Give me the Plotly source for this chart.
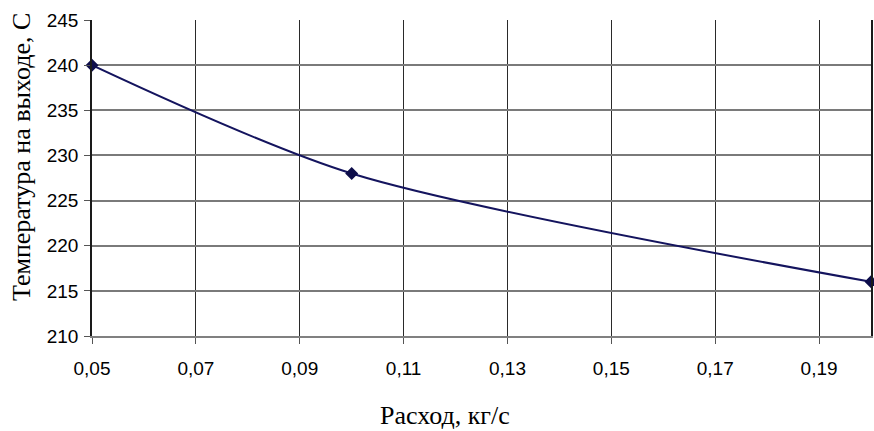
import plotly.graph_objects as go

flow = [0.05, 0.10, 0.20]
temp = [240, 228, 216]
x_ticks = [0.05, 0.07, 0.09, 0.11, 0.13, 0.15, 0.17, 0.19]
y_ticks = [210, 215, 220, 225, 230, 235, 240, 245]
x_title = "Расход, кг/с"
y_title = "Температура на выходе, С"

W, H = 874, 431
L, R, T, B = 92, 3, 20, 95

fig = go.Figure()
fig.add_trace(go.Scatter(
    x=flow, y=temp, mode="lines+markers",
    line=dict(color="#14145e", width=2, shape="spline", smoothing=0.8),
    marker=dict(symbol="diamond", size=10, color="#0d0d4a"),
    cliponaxis=False, showlegend=False,
))

serif = "Liberation Serif, Times New Roman"
fig.update_layout(
    width=W, height=H,
    margin=dict(l=L, r=R, t=T, b=B),
    plot_bgcolor="white", paper_bgcolor="white",
    separators=", ",
    font=dict(family="Liberation Sans, Arial", size=19, color="black"),
    annotations=[
        dict(text=x_title, xref="paper", yref="paper",
             x=(445 - L) / (W - L - R), y=-(415 - (H - B)) / (H - T - B),
             xanchor="center", yanchor="middle", showarrow=False,
             borderpad=0,
             font=dict(family=serif, size=26, color="black")),
        dict(text=y_title, xref="paper", yref="paper", textangle=-90,
             x=-(L - 21) / (W - L - R), y=((H - B) - 157) / (H - T - B),
             xanchor="center", yanchor="middle", showarrow=False,
             borderpad=0,
             font=dict(family=serif, size=26, color="black")),
    ],
)
fig.update_xaxes(
    range=[0.05, 0.20], tickvals=x_ticks, tickformat=".2f",
    showgrid=True, gridcolor="#2a2a2a", gridwidth=1,
    showline=True, linecolor="#808080", linewidth=2,
    ticks="outside", ticklen=6, tickcolor="#555", ticklabelstandoff=8,
    zeroline=False, automargin=False,
)
fig.update_yaxes(
    range=[210, 245], tickvals=y_ticks,
    showgrid=True, gridcolor="#7a7a7a", gridwidth=2,
    showline=True, linecolor="#1a1a1a", linewidth=1.5, mirror=True,
    ticks="outside", ticklen=6, tickcolor="#555", ticklabelstandoff=2,
    zeroline=False, automargin=False,
)

fig.write_html("out.html", config={"displayModeBar": False},
               post_script="document.body.style.margin='0';document.body.style.overflow='hidden';")
